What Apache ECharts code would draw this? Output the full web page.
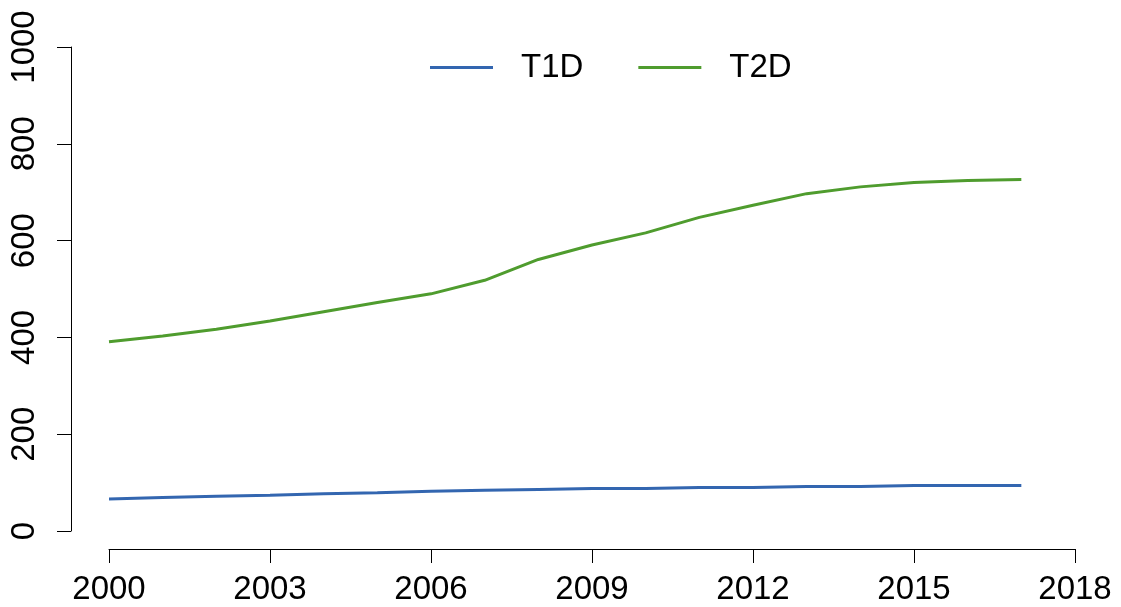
<!DOCTYPE html>
<html>
<head>
<meta charset="utf-8">
<script src="https://cdn.jsdelivr.net/npm/echarts@6/dist/echarts.min.js"></script>
<style>html,body{margin:0;padding:0;background:#fff}#c{width:1121px;height:607px}</style>
</head>
<body>
<div id="c"></div>
<script>
const years = [2000,2001,2002,2003,2004,2005,2006,2007,2008,2009,2010,2011,2012,2013,2014,2015,2016,2017];
const t1d = [66,69,72,74,77,79,82,84,86,88,88,90,90,92,92,94,94,94];
const t2d = [391,403,417,434,453,472,490,518,561,591,616,648,673,697,711,720,724,726];
const seriesNames = ['T1D','T2D'];
const colors = ['#3366B0','#4F9C2E'];

const font = "'Liberation Sans', Arial, Helvetica, sans-serif";
const chart = echarts.init(document.getElementById('c'), null, {renderer:'canvas'});
function pairs(ys){ return years.map((y,i)=>[y, ys[i]]); }
chart.setOption({
  animation:false,
  backgroundColor:'#fff',
  grid:{left:109, right:46, top:47, bottom:76},
  legend:{
    left:430, top:51, padding:0,
    itemWidth:63, itemHeight:3, itemGap:55,
    icon:'rect',
    textStyle:{fontFamily:font, fontSize:33, color:'#000', padding:[0,0,0,23]},
    data:seriesNames
  },
  xAxis:{
    type:'value', min:2000, max:2018, interval:3, offset:18,
    axisLine:{show:true, onZero:false, lineStyle:{color:'#000', width:1}},
    axisTick:{show:true, length:14, lineStyle:{color:'#000', width:1}},
    splitLine:{show:false},
    axisLabel:{fontFamily:font, fontSize:33, color:'#000', margin:24, formatter:v=>String(v)}
  },
  yAxis:{
    type:'value', min:0, max:1000, interval:200, offset:38,
    axisLine:{show:true, onZero:false, lineStyle:{color:'#000', width:1}},
    axisTick:{show:true, length:14, lineStyle:{color:'#000', width:1}},
    splitLine:{show:false},
    axisLabel:{fontFamily:font, fontSize:33, color:'#000', margin:30, rotate:90, formatter:v=>String(v)}
  },
  series:[
    {name:seriesNames[0], type:'line', data:pairs(t1d), showSymbol:false, symbol:'none',
     itemStyle:{color:colors[0]}, lineStyle:{color:colors[0], width:3}},
    {name:seriesNames[1], type:'line', data:pairs(t2d), showSymbol:false, symbol:'none',
     itemStyle:{color:colors[1]}, lineStyle:{color:colors[1], width:3}}
  ]
});
</script>
</body>
</html>
